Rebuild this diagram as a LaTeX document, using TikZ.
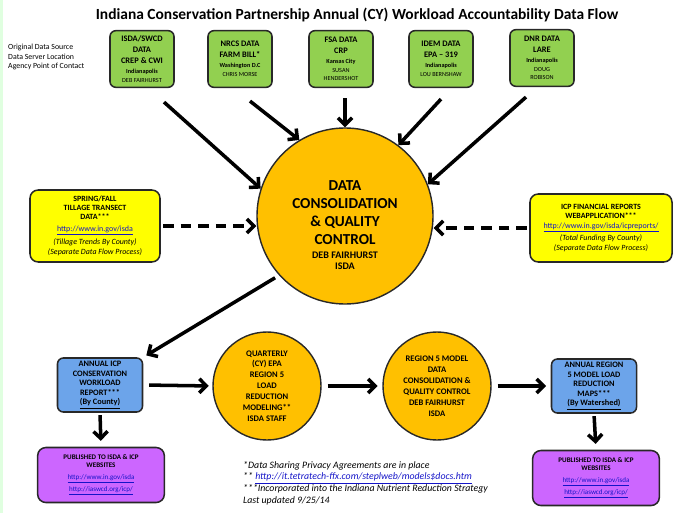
\documentclass[tikz,border=0pt]{standalone}
\usepackage{fontspec}
\setmainfont{Carlito}
\usetikzlibrary{arrows.meta}

\definecolor{srcgreen}{RGB}{146,208,80}
\definecolor{sideyellow}{RGB}{255,255,0}
\definecolor{qcorange}{RGB}{255,192,0}
\definecolor{rptblue}{RGB}{108,164,234}
\definecolor{pubpurple}{RGB}{204,102,255}
\definecolor{boxline}{RGB}{40,40,40}
\definecolor{linkblue}{RGB}{20,20,200}

\newcommand{\boxsmall}{\fontsize{5.3}{6}\selectfont}
\newcommand{\weblink}[1]{\textcolor{linkblue}{\underline{#1}}}

\begin{document}
\begin{tikzpicture}[x=0.03cm, y=-0.03cm,
	source/.style={draw=boxline, line width=1.3pt, rounded corners=5pt, fill=srcgreen,
		minimum width=1.92cm, minimum height=1.7cm, align=center, inner sep=1pt,
		font=\fontsize{7.2}{9.4}\selectfont\bfseries},
	sidebox/.style={draw=boxline, line width=1.3pt, rounded corners=7pt, fill=sideyellow,
		align=center, inner sep=1pt, font=\fontsize{6.8}{7.4}\selectfont},
	report/.style={draw=boxline, line width=1.3pt, rounded corners=5pt, fill=rptblue,
		minimum width=2.55cm, minimum height=1.62cm, align=center, inner sep=1pt,
		font=\fontsize{7.1}{8.1}\selectfont\bfseries},
	publish/.style={draw=boxline, line width=1.3pt, rounded corners=7pt, fill=pubpurple,
		minimum width=3.8cm, minimum height=1.65cm, align=center, inner sep=1pt,
		font=\fontsize{6}{7}\selectfont},
	stage/.style={circle, draw=boxline, line width=1.2pt, fill=qcorange, align=center, inner sep=0pt,
		font=\fontsize{7.3}{9.3}\selectfont\bfseries},
	flow/.style={line width=3pt, -{Straight Barb[length=6pt, width=12pt]}},
	sideflow/.style={flow, dash pattern=on 9pt off 6pt}]
	\useasboundingbox (0,0) rectangle (679,513);
	\fill[green!12] (0,0) rectangle (3,513);

	\node[font=\fontsize{13.2}{15}\selectfont\bfseries] (title) at (357,15)
		{Indiana Conservation Partnership Annual (CY) Workload Accountability Data Flow};
	\node[anchor=west, align=left, font=\fontsize{6.7}{8.4}\selectfont, inner sep=0pt] (legend) at (8,57)
		{Original Data Source\\Data Server Location\\Agency Point of Contact};

	\node[source] (isda) at (142,59) {ISDA/SWCD\\DATA\\CREP \& CWI\\[-1pt]
		{\boxsmall Indianapolis}\\[-2pt]{\boxsmall\mdseries DEB FAIRHURST}};
	\node[source] (nrcs) at (240,59) {NRCS DATA\\FARM BILL*\\[-1pt]
		{\boxsmall Washington D.C}\\[-2pt]{\boxsmall\mdseries CHRIS MORSE}};
	\node[source] (fsa) at (341,59) {FSA DATA\\CRP\\[-1pt]
		{\boxsmall Kansas City}\\[-2pt]{\boxsmall\mdseries SUSAN}\\[-2pt]{\boxsmall\mdseries HENDERSHOT}};
	\node[source] (idem) at (441,59) {IDEM DATA\\EPA -- 319\\[-1pt]
		{\boxsmall Indianapolis}\\[-2pt]{\boxsmall\mdseries LOU BERNSHAW}};
	\node[source] (dnr) at (542,58) {DNR DATA\\LARE\\[-1pt]
		{\boxsmall Indianapolis}\\[-2pt]{\boxsmall\mdseries DOUG}\\[-2pt]{\boxsmall\mdseries ROBISON}};

	\node[stage, minimum size=5.28cm] (core) at (345,216) {};
	\node[align=center, font=\fontsize{13}{15.4}\selectfont\bfseries] (corelabel) at (345,225)
		{DATA\\CONSOLIDATION\\\& QUALITY\\CONTROL\\[-3pt]
		{\fontsize{8.6}{10}\selectfont DEB FAIRHURST}\\[-6pt]{\fontsize{8.6}{10}\selectfont ISDA}};

	\node[sidebox, minimum width=3.9cm, minimum height=2.16cm] (tillage) at (95,226)
		{\textbf{SPRING/FALL}\\\textbf{TILLAGE TRANSECT}\\\textbf{DATA***}\\[3pt]
		\weblink{http://www.in.gov/isda}\\[2pt]\textit{(Tillage Trends By County)}\\[1pt]
		\textit{(Separate Data Flow Process)}};
	\node[sidebox, minimum width=4.26cm, minimum height=2.04cm] (finance) at (601,228)
		{\textbf{ICP FINANCIAL REPORTS}\\\textbf{WEBAPPLICATION***}\\[1pt]
		\weblink{http://www.in.gov/isda/icpreports/}\\[1pt]\textit{(Total Funding By County)}\\[1pt]
		\textit{(Separate Data Flow Process)}};

	\node[report] (icprpt) at (100,385) {ANNUAL ICP\\CONSERVATION\\WORKLOAD\\
		REPORT***\\\underline{(By County)}};
	\node[stage, minimum size=3.24cm] (epa) at (267,386) {QUARTERLY\\(CY) EPA\\
		REGION 5\\LOAD\\REDUCTION\\MODELING**\\ISDA STAFF};
	\node[stage, minimum size=3.24cm] (model) at (437,386) {REGION 5 MODEL\\DATA\\
		CONSOLIDATION \&\\QUALITY CONTROL\\DEB FAIRHURST\\ISDA};
	\node[report] (maps) at (594,386) {ANNUAL REGION\\5 MODEL LOAD\\REDUCTION\\
		MAPS***\\\underline{(By Watershed)}};

	\node[publish] (pubicp) at (101,475) {\textbf{PUBLISHED TO ISDA \& ICP}\\\textbf{WEBSITES}\\[3pt]
		\weblink{http://www.in.gov/isda}\\[2pt]\weblink{http://iaswcd.org/icp/}};
	\node[publish] (pubmap) at (596,478) {\textbf{PUBLISHED TO ISDA \& ICP}\\\textbf{WEBSITES}\\[3pt]
		\weblink{http://www.in.gov/isda}\\[2pt]\weblink{http://iaswcd.org/icp/}};

	\node[anchor=north west, align=left, inner sep=0pt, font=\fontsize{8.4}{10}\selectfont\itshape] (notes) at (243,461)
		{*Data Sharing Privacy Agreements are in place\\
		** \weblink{http://it.tetratech-ffx.com/steplweb/models\$docs.htm}\\
		***Incorporated into the Indiana Nutrient Reduction Strategy\\
		Last updated 9/25/14};

	\draw[flow] ([shift={(22,14)}]isda.south) -- (core.162);
	\draw[flow] ([shift={(10,13)}]nrcs.south) -- (core.121);
	\draw[flow] ([shift={(4,10)}]fsa.south) -- (core.90);
	\draw[flow] ([shift={(0,11)}]idem.south) -- (core.53);
	\draw[flow] ([shift={(-16,10)}]dnr.south) -- (core.21);

	\draw[sideflow, shorten <=2pt] (tillage.east) -- (core.west |- tillage.east);
	\draw[sideflow, shorten <=2pt] (finance.west) -- (core.east |- finance.west);

	\draw[flow, shorten <=4pt, shorten >=3pt] (core.222) -- (icprpt.north east);
	\draw[flow, shorten <=5pt, shorten >=3pt] (icprpt.east) -- (epa.west);
	\draw[flow, shorten <=5pt, shorten >=4pt] (epa.east) -- (model.west);
	\draw[flow, shorten <=5pt, shorten >=4pt] (model.east) -- (maps.west);
	\draw[flow, shorten <=2pt, shorten >=5pt] (icprpt.south) -- (pubicp.north);
	\draw[flow, shorten <=2pt, shorten >=5pt] (maps.south) -- (pubmap.north);
\end{tikzpicture}
\end{document}
